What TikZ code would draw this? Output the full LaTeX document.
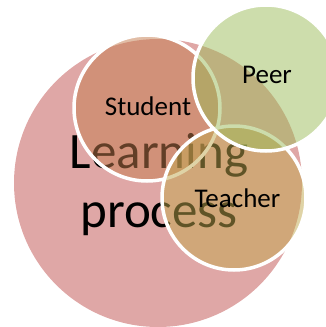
\documentclass[tikz,border=0pt]{standalone}
\usepackage{fontspec}
\setmainfont{Carlito}
\definecolor{pinkc}{RGB}{192,80,77}
\definecolor{studc}{RGB}{196,124,78}
\definecolor{teachc}{RGB}{192,168,78}
\definecolor{peerc}{RGB}{155,187,89}
\tikzset{
  bigcirc/.style={fill=pinkc, fill opacity=0.5},
  smallcirc/.style={fill opacity=0.5, draw=white, draw opacity=1, line width=3.5pt},
  bigtext/.style={font=\fontsize{51}{59}\selectfont, text=black, inner sep=0pt, anchor=base},
  lbl/.style={font=\fontsize{27}{32}\selectfont, text=black, inner sep=0pt, anchor=base}
}
\begin{document}
\begin{tikzpicture}[x=1pt,y=-1pt]
\useasboundingbox (0,0) rectangle (326,327);
\fill[bigcirc] (158,183) circle (144);
\node[bigtext] (lp1) at (159,168) {Learning};
\node[bigtext] (lp2) at (159,227) {process};
\filldraw[smallcirc, fill=studc] (147,108) circle (73);
\filldraw[smallcirc, fill=teachc] (234,198) circle (72);
\filldraw[smallcirc, fill=peerc] (266,78) circle (73);
\node[lbl] (student) at (148,115) {Student};
\node[lbl] (teacher) at (237.5,207) {Teacher};
\node[lbl] (peer) at (267,83) {Peer};
\end{tikzpicture}
\end{document}
